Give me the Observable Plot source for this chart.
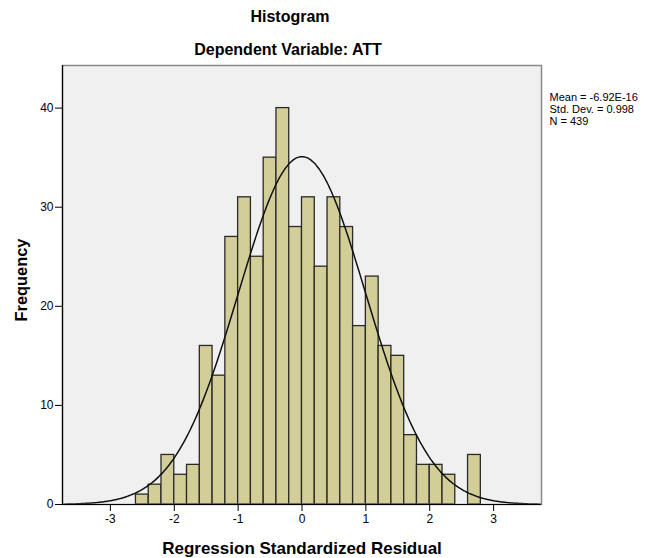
<!DOCTYPE html>
<html>
<head>
<meta charset="utf-8">
<script src="https://cdn.jsdelivr.net/npm/d3@7"></script>
<script src="https://cdn.jsdelivr.net/npm/@observablehq/plot@0.6"></script>
<style>
  html, body { margin: 0; padding: 0; background: #fff; }
  #chart svg { display: block; }
</style>
</head>
<body>
<div id="chart"></div>
<script>
// Histogram of regression standardized residuals (bin width 0.2)
const binLower = [-2.6, -2.4, -2.2, -2.0, -1.8, -1.6, -1.4, -1.2, -1.0, -0.8, -0.6, -0.4, -0.2,
                  0.0, 0.2, 0.4, 0.6, 0.8, 1.0, 1.2, 1.4, 1.6, 1.8, 2.0, 2.2, 2.4, 2.6];
const counts   = [1, 2, 5, 3, 4, 16, 13, 27, 31, 25, 35, 40, 28,
                  31, 24, 31, 28, 18, 23, 16, 15, 7, 4, 4, 3, 0, 5];
const binWidth = 0.2;

// Summary statistics shown beside the plot
const mean = -6.92e-16;
const stdDev = 0.998;
const n = 439;
const statsLines = ["Mean = -6.92E-16", "Std. Dev. = 0.998", "N = 439"];

const xTicks = [-3, -2, -1, 0, 1, 2, 3];
const yTicks = [0, 10, 20, 30, 40];
const xDomain = [-3.75, 3.75];
const yDomain = [0, 44.3];

const bins = binLower.map((x0, i) => ({x1: x0, x2: +(x0 + binWidth).toFixed(2), count: counts[i]}));

// Normal curve scaled to the histogram (N × bin width × density)
const curve = d3.range(xDomain[0], xDomain[1] + 1e-9, 0.025).map(x => ({
  x,
  y: n * binWidth * Math.exp(-0.5 * ((x - mean) / stdDev) ** 2) / (stdDev * Math.sqrt(2 * Math.PI))
}));

const font = "'Liberation Sans', Arial, Helvetica, sans-serif";

const chart = Plot.plot({
  width: 648,
  height: 558,
  marginLeft: 62,
  marginRight: 107,
  marginTop: 65,
  marginBottom: 54,
  style: {fontFamily: font, fontSize: "12px", color: "#000", background: "#fff"},
  x: {domain: xDomain},
  y: {domain: yDomain},
  marks: [
    Plot.frame({fill: "#f0f0f0", stroke: null}),
    Plot.rectY(bins, {x1: "x1", x2: "x2", y: "count", fill: "#d3ce97", stroke: "#2a2a2a", strokeWidth: 1.3, inset: 0}),
    Plot.line(curve, {x: "x", y: "y", stroke: "#111", strokeWidth: 1.5, curve: "natural"}),
    Plot.frame({stroke: "#8a8a8a", strokeWidth: 1.5}),
    Plot.ruleY([0], {stroke: "#000", strokeWidth: 1.2}),
    Plot.ruleX([xDomain[0]], {stroke: "#000", strokeWidth: 1.2}),
    Plot.axisX({ticks: xTicks, tickSize: 7, tickPadding: 3, tickFormat: d => String(d), label: null, fontSize: 12}),
    Plot.axisY({ticks: yTicks, tickSize: 7, tickPadding: 2, tickFormat: d => String(d), label: null, fontSize: 12}),
    // Titles
    Plot.text(["Histogram"], {frameAnchor: "top", dx: -12, dy: -44, lineAnchor: "bottom", fontSize: 16, fontWeight: "bold"}),
    Plot.text(["Dependent Variable: ATT"], {frameAnchor: "top", dx: -14, dy: -11, lineAnchor: "bottom", fontSize: 16, fontWeight: "bold"}),
    // Axis titles
    Plot.text(["Regression Standardized Residual"], {frameAnchor: "bottom", dy: 49, lineAnchor: "bottom", fontSize: 17, fontWeight: "bold"}),
    Plot.text(["Frequency"], {frameAnchor: "left", dx: -36, dy: -5, rotate: -90, textAnchor: "middle", lineAnchor: "bottom", fontSize: 16.4, fontWeight: "bold"}),
    // Summary statistics
    Plot.text([statsLines.join("\n")], {frameAnchor: "top-right", dx: 8, dy: 27, textAnchor: "start", lineAnchor: "top", fontSize: 11, lineHeight: 1.1})
  ]
});

document.getElementById("chart").appendChild(chart);
</script>
</body>
</html>
